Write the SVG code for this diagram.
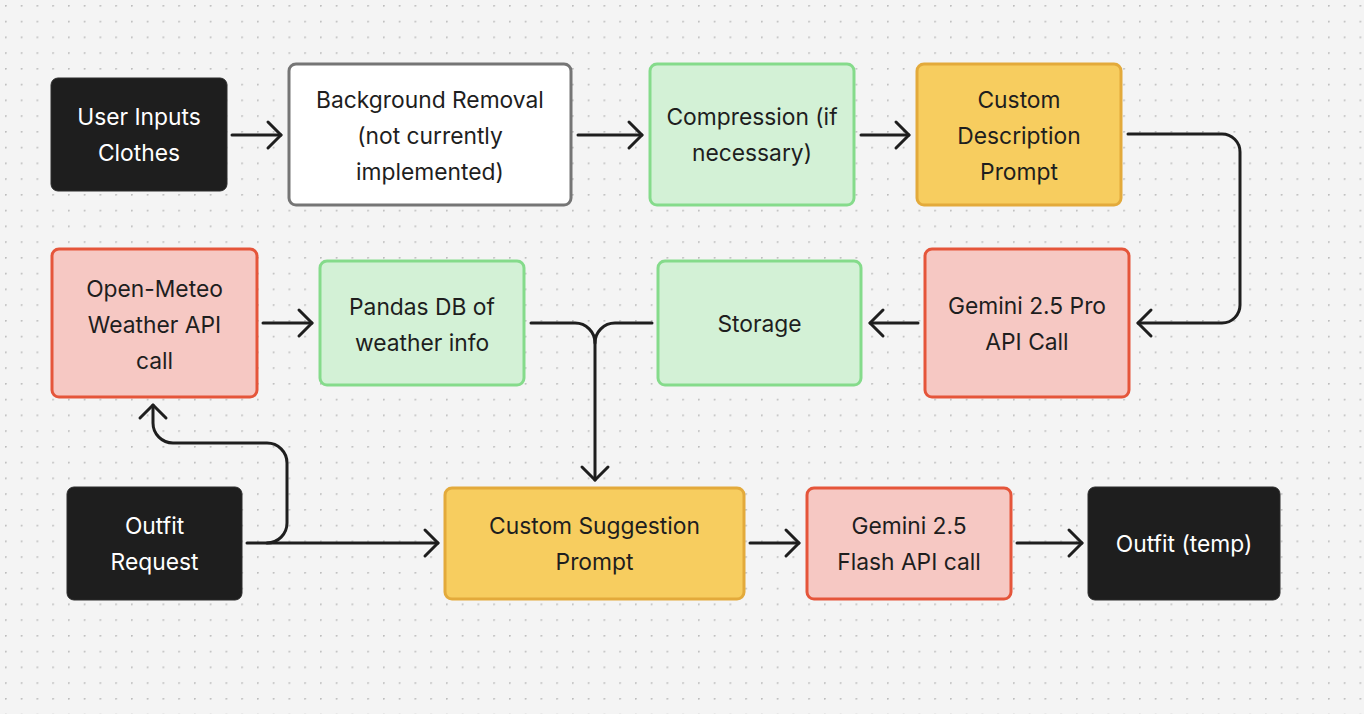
<svg xmlns="http://www.w3.org/2000/svg" width="1364" height="714" viewBox="0 0 1364 714">
<style>
.t{font-family:Inter,"Noto Sans","Liberation Sans",sans-serif;font-size:22.8px;text-anchor:middle;fill:#1e1e1e}
.w{fill:#ffffff}
.blk{fill:#1e1e1e;stroke:#2c2c2c;stroke-width:1}
.wht{fill:#ffffff;stroke:#757575;stroke-width:3}
.grn{fill:#d3f1d6;stroke:#85db8b;stroke-width:3}
.yel{fill:#f7cd5f;stroke:#e3aa3b;stroke-width:3}
.red{fill:#f6c8c3;stroke:#e5553a;stroke-width:3}
.c{fill:none;stroke:#1e1e1e;stroke-width:3;stroke-linecap:round;stroke-linejoin:round}
</style>
<defs>
<pattern id="dots" x="5" y="5" width="15.75" height="15.75" patternUnits="userSpaceOnUse">
<circle cx="0.8" cy="0.8" r="1" fill="#bdbdbd"/>
</pattern>
<marker id="ah" markerUnits="userSpaceOnUse" viewBox="-20 -16 24 32" refX="0" refY="0" markerWidth="24" markerHeight="32" orient="auto" overflow="visible">
<path d="M-13,-13 L0,0 L-13,13" fill="none" stroke="#1e1e1e" stroke-width="3" stroke-linecap="round" stroke-linejoin="round"/>
</marker>
</defs>
<rect x="0" y="0" width="1364" height="714" fill="#f4f4f4"/>
<rect x="0" y="0" width="1364" height="714" fill="url(#dots)"/>

<g id="connectors">
<path class="c" d="M232,135 H281" marker-end="url(#ah)"/>
<path class="c" d="M578,135 H642" marker-end="url(#ah)"/>
<path class="c" d="M861,135 H909" marker-end="url(#ah)"/>
<path class="c" d="M1128,134 H1222 A18,18 0 0 1 1240,152 V305 A18,18 0 0 1 1222,323 H1138" marker-end="url(#ah)"/>
<path class="c" d="M918,323 H870" marker-end="url(#ah)"/>
<path class="c" d="M263,323 H312" marker-end="url(#ah)"/>
<path class="c" d="M531,323 H575 A20,20 0 0 1 595,343 V480" marker-end="url(#ah)"/>
<path class="c" d="M652,323 H615 A20,20 0 0 0 595,343"/>
<path class="c" d="M247,543 H438" marker-end="url(#ah)"/>
<path class="c" d="M267,543 A20,20 0 0 0 287,523 V463 A20,20 0 0 0 267,443 H173 A20,20 0 0 1 153,423 V405" marker-end="url(#ah)"/>
<path class="c" d="M750,543 H799" marker-end="url(#ah)"/>
<path class="c" d="M1017,543 H1082" marker-end="url(#ah)"/>
</g>

<g id="user-inputs">
<rect class="blk" x="51" y="78" width="176" height="113" rx="7"/>
<text class="t w" x="139" y="125">User Inputs</text>
<text class="t w" x="139" y="161">Clothes</text>
</g>
<g id="background-removal">
<rect class="wht" x="289" y="64" width="282" height="141" rx="7"/>
<text class="t" x="430" y="108">Background Removal</text>
<text class="t" x="430" y="144">(not currently</text>
<text class="t" x="430" y="180">implemented)</text>
</g>
<g id="compression">
<rect class="grn" x="650" y="64" width="204" height="141" rx="7"/>
<text class="t" x="752" y="125">Compression (if</text>
<text class="t" x="752" y="161">necessary)</text>
</g>
<g id="custom-description">
<rect class="yel" x="917" y="64" width="204" height="141" rx="7"/>
<text class="t" x="1019" y="108">Custom</text>
<text class="t" x="1019" y="144">Description</text>
<text class="t" x="1019" y="180">Prompt</text>
</g>
<g id="open-meteo">
<rect class="red" x="52" y="249" width="205" height="148" rx="7"/>
<text class="t" x="154.5" y="297">Open-Meteo</text>
<text class="t" x="154.5" y="333">Weather API</text>
<text class="t" x="154.5" y="369">call</text>
</g>
<g id="pandas-db">
<rect class="grn" x="320" y="261" width="204" height="124" rx="7"/>
<text class="t" x="422" y="315">Pandas DB of</text>
<text class="t" x="422" y="351">weather info</text>
</g>
<g id="storage">
<rect class="grn" x="658" y="261" width="203" height="124" rx="7"/>
<text class="t" x="759.5" y="332">Storage</text>
</g>
<g id="gemini-pro">
<rect class="red" x="925" y="249" width="204" height="148" rx="7"/>
<text class="t" x="1027" y="314">Gemini 2.5 Pro</text>
<text class="t" x="1027" y="350">API Call</text>
</g>
<g id="outfit-request">
<rect class="blk" x="67" y="487" width="175" height="113" rx="7"/>
<text class="t w" x="154.5" y="534">Outfit</text>
<text class="t w" x="154.5" y="570">Request</text>
</g>
<g id="custom-suggestion">
<rect class="yel" x="445" y="488" width="299" height="111" rx="7"/>
<text class="t" x="594.5" y="534">Custom Suggestion</text>
<text class="t" x="594.5" y="570">Prompt</text>
</g>
<g id="gemini-flash">
<rect class="red" x="807" y="488" width="204" height="111" rx="7"/>
<text class="t" x="909" y="534">Gemini 2.5</text>
<text class="t" x="909" y="570">Flash API call</text>
</g>
<g id="outfit-temp">
<rect class="blk" x="1088" y="487" width="192" height="113" rx="7"/>
<text class="t w" x="1184" y="552">Outfit (temp)</text>
</g>
</svg>
